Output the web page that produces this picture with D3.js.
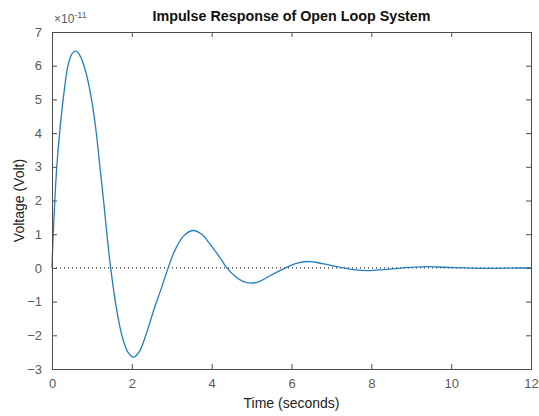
<!DOCTYPE html>
<html>
<head>
<meta charset="utf-8">
<script src="https://cdn.jsdelivr.net/npm/d3@7"></script>
<style>
  body { margin: 0; background: #fff; }
  text { font-family: "Liberation Sans", Arial, sans-serif; }
</style>
</head>
<body>
<svg id="chart" width="539" height="416"></svg>
<script>
// time samples (seconds)
var time = [0, 0.03, 0.07, 0.12, 0.19, 0.28, 0.4, 0.5, 0.6, 0.7, 0.85, 0.99, 1.1, 1.2, 1.3, 1.38, 1.47,
    1.6, 1.75, 1.9, 2.04, 2.18, 2.35, 2.55, 2.74, 2.91, 3.07, 3.3, 3.53, 3.75, 3.95, 4.1, 4.25, 4.38,
    4.6, 4.8, 5.0, 5.2, 5.45, 5.85, 6.1, 6.42, 6.8, 7.3, 7.6, 7.95, 8.3, 8.8,
    9.1, 9.4, 9.8, 10.3, 10.9, 11.5, 12];
// voltage in units of 1e-11
var voltage = [0, 1.0, 2.0, 3.0, 4.0, 5.0, 6.0, 6.35, 6.43, 6.3, 5.8, 5.0, 4.1, 3.0, 1.9, 0.95, 0,
    -1.1, -2.0, -2.5, -2.65, -2.5, -2.0, -1.25, -0.6, 0, 0.5, 0.95, 1.11, 1.0, 0.72, 0.48, 0.23, 0,
    -0.26, -0.41, -0.45, -0.4, -0.24, 0, 0.13, 0.19, 0.12, 0, -0.06, -0.08, -0.05, 0,
    0.025, 0.035, 0.02, 0, -0.014, -0.005, 0];

var xTicks = [0, 2, 4, 6, 8, 10, 12];
var yTicks = [-3, -2, -1, 0, 1, 2, 3, 4, 5, 6, 7];

var data = time.map(function (t, i) { return { x: t, y: voltage[i] }; });

var plotLeft = 52, plotRight = 531, plotTop = 32, plotBottom = 369;
var axisColor = "#4d4d4d";
var labelColor = "#5a5a5a";

var xScale = d3.scaleLinear().domain([0, 12]).range([plotLeft, plotRight]);
var yScale = d3.scaleLinear().domain([-3, 7]).range([plotBottom, plotTop]);

var svg = d3.select("#chart");

// zero reference line (dotted)
svg.append("line")
    .attr("x1", xScale(0)).attr("x2", xScale(12))
    .attr("y1", yScale(0)).attr("y2", yScale(0))
    .attr("stroke", "#000")
    .attr("stroke-width", 1)
    .attr("stroke-dasharray", "1,3");

// response curve
var line = d3.line()
    .x(function (d) { return xScale(d.x); })
    .y(function (d) { return yScale(d.y); })
    .curve(d3.curveCatmullRom.alpha(0.5));

svg.append("path")
    .datum(data)
    .attr("fill", "none")
    .attr("stroke", "#1f7fc0")
    .attr("stroke-width", 1.3)
    .attr("d", line);

// axes: ticks inside, box all round
function styleAxis(g) {
    g.select(".domain").attr("stroke", axisColor);
    g.selectAll(".tick line").attr("stroke", axisColor);
    g.selectAll(".tick text").attr("fill", labelColor).style("font-size", "13px");
}

svg.append("g")
    .attr("transform", "translate(0," + plotBottom + ")")
    .call(d3.axisBottom(xScale).tickValues(xTicks).tickSizeInner(-5).tickSizeOuter(0).tickPadding(10))
    .call(styleAxis);

svg.append("g")
    .attr("transform", "translate(0," + plotTop + ")")
    .call(d3.axisTop(xScale).tickValues(xTicks).tickSizeInner(-5).tickSizeOuter(0).tickFormat(""))
    .call(styleAxis);

svg.append("g")
    .attr("transform", "translate(" + plotLeft + ",0)")
    .call(d3.axisLeft(yScale).tickValues(yTicks).tickSizeInner(-5).tickSizeOuter(0).tickPadding(10))
    .call(styleAxis);

svg.append("g")
    .attr("transform", "translate(" + plotRight + ",0)")
    .call(d3.axisRight(yScale).tickValues(yTicks).tickSizeInner(-5).tickSizeOuter(0).tickFormat(""))
    .call(styleAxis);

// exponent label
var ex = svg.append("text")
    .attr("x", plotLeft + 2).attr("y", plotTop - 9)
    .attr("fill", labelColor)
    .style("font-size", "12px");
ex.append("tspan").text("\u00d710");
ex.append("tspan").attr("dy", -5).style("font-size", "9px").text("-11");

// title
svg.append("text")
    .attr("x", (plotLeft + plotRight) / 2).attr("y", 21)
    .attr("text-anchor", "middle")
    .style("font-size", "14.3px")
    .style("font-weight", "bold")
    .attr("fill", "#111")
    .text("Impulse Response of Open Loop System");

// axis labels
svg.append("text")
    .attr("x", (plotLeft + plotRight) / 2).attr("y", 408)
    .attr("text-anchor", "middle")
    .style("font-size", "14px")
    .attr("fill", "#222")
    .text("Time (seconds)");

svg.append("text")
    .attr("transform", "translate(24," + ((plotTop + plotBottom) / 2) + ") rotate(-90)")
    .attr("text-anchor", "middle")
    .style("font-size", "14px")
    .attr("fill", "#222")
    .text("Voltage (Volt)");
</script>
</body>
</html>
